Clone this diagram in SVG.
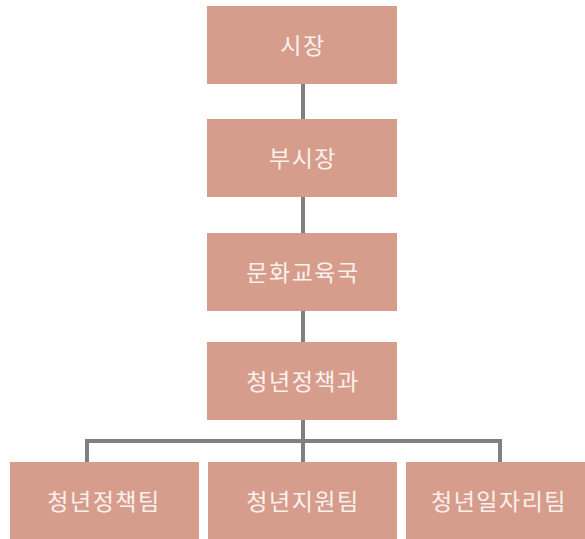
<svg xmlns="http://www.w3.org/2000/svg" width="585" height="539" viewBox="0 0 585 539">
<style>
.box{fill:#d69d8c}
.lbl{font-family:"Noto Sans CJK KR","Noto Sans",sans-serif;font-size:23px;letter-spacing:1.5px;fill:#fbf1ec;text-anchor:middle;dominant-baseline:central}
.con{stroke:#808080;stroke-width:4;fill:none}
</style>
<rect width="585" height="539" fill="#ffffff"/>
<g id="connectors">
<line class="con" x1="303" y1="84" x2="303" y2="119"/>
<line class="con" x1="303" y1="197" x2="303" y2="233"/>
<line class="con" x1="303" y1="311" x2="303" y2="342"/>
<line class="con" x1="303" y1="420" x2="303" y2="462"/>
<polyline class="con" points="87,462 87,441 500,441 500,462"/>
</g>
<g id="n1"><rect class="box" x="207" y="6" width="190" height="78"/><text class="lbl" x="303" y="44">시장</text></g>
<g id="n2"><rect class="box" x="207" y="119" width="190" height="78"/><text class="lbl" x="303" y="157">부시장</text></g>
<g id="n3"><rect class="box" x="207" y="233" width="190" height="78"/><text class="lbl" x="303" y="271">문화교육국</text></g>
<g id="n4"><rect class="box" x="207" y="342" width="190" height="78"/><text class="lbl" x="303" y="380">청년정책과</text></g>
<g id="n5"><rect class="box" x="10" y="462" width="189" height="80"/><text class="lbl" x="104" y="500">청년정책팀</text></g>
<g id="n6"><rect class="box" x="208" y="462" width="189" height="80"/><text class="lbl" x="303" y="500">청년지원팀</text></g>
<g id="n7"><rect class="box" x="406" y="462" width="185" height="80"/><text class="lbl" x="499" y="500">청년일자리팀</text></g>
</svg>
